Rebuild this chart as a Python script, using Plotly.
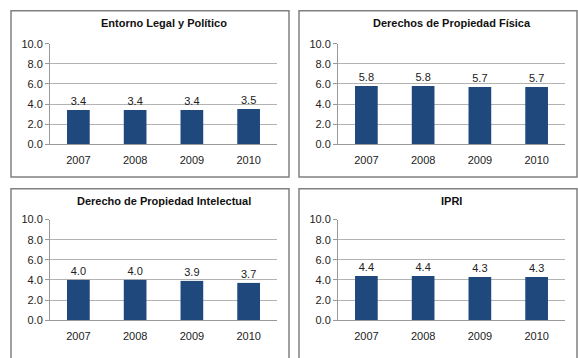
import plotly.graph_objects as go

# data
years = ["2007", "2008", "2009", "2010"]
titles = [
    "Entorno Legal y Político",
    "Derechos de Propiedad Física",
    "Derecho de Propiedad Intelectual",
    "IPRI",
]
legal_politico = [3.4, 3.4, 3.4, 3.5]
propiedad_fisica = [5.8, 5.8, 5.7, 5.7]
propiedad_intelectual = [4.0, 4.0, 3.9, 3.7]
ipri = [4.4, 4.4, 4.3, 4.3]
y_ticks = [0, 2, 4, 6, 8, 10]

W, H = 578, 358
BAR = "#1F497D"
GRID = "#b3b3b3"
FONT = "Arial, Liberation Sans, sans-serif"

series = [legal_politico, propiedad_fisica, propiedad_intelectual, ipri]

# plot areas in pixels (x0, x1, ytop, ybottom) and panel frames
plots = [(50, 277, 39, 143), (338, 565, 39, 143), (50, 277, 221, 325), (338, 565, 221, 325)]
frames = [(11, 289, 5, 177), (299, 577, 5, 177), (11, 289, 189, 375), (299, 577, 189, 375)]
title_y = [18, 18, 202, 202]

fig = go.Figure()
layout = dict(
    width=W, height=H,
    margin=dict(l=0, r=0, t=0, b=0),
    paper_bgcolor="white", plot_bgcolor="white",
    font=dict(family=FONT, size=11, color="#222222"),
    showlegend=False,
    bargap=0.6,
    shapes=[], annotations=[],
)

for i, (vals, title) in enumerate(zip(series, titles)):
    n = "" if i == 0 else str(i + 1)
    x0, x1, yt, yb = plots[i]
    fig.add_trace(go.Bar(
        x=years, y=vals,
        marker=dict(color=BAR, line=dict(width=0)),
        text=[f"{v:.1f}" for v in vals],
        textposition="outside",
        textfont=dict(size=11, color="#222222"),
        cliponaxis=False,
        xaxis="x" + n, yaxis="y" + n,
    ))
    layout["xaxis" + n] = dict(
        domain=[x0 / W, x1 / W], anchor="y" + n,
        showgrid=False, showline=True, linecolor="#999999", linewidth=1,
        ticks="", ticklabelstandoff=6, tickfont=dict(size=11),
    )
    layout["yaxis" + n] = dict(
        domain=[1 - yb / H, 1 - yt / H], anchor="x" + n,
        range=[0, 10], tickvals=y_ticks, tickformat=".1f",
        showgrid=True, gridcolor=GRID, gridwidth=1.2,
        showline=True, linecolor="#999999", linewidth=1,
        ticks="outside", ticklen=4, tickcolor="#999999",
        zeroline=False, tickfont=dict(size=11),
    )
    fx0, fx1, fy0, fy1 = frames[i]
    layout["shapes"].append(dict(
        type="rect", xref="paper", yref="paper",
        x0=fx0 / W, x1=fx1 / W, y0=1 - fy1 / H, y1=1 - fy0 / H,
        line=dict(color="#808080", width=1.5),
    ))
    layout["annotations"].append(dict(
        text="<b>" + title + "</b>", xref="paper", yref="paper",
        x=(x0 + x1) / 2 / W, y=1 - title_y[i] / H,
        xanchor="center", yanchor="middle", showarrow=False,
        font=dict(size=11, color="#111111"),
    ))

fig.update_layout(**layout)
fig.write_html(
    "out.html",
    config={"displayModeBar": False},
    post_script="document.body.style.margin='0';",
)
